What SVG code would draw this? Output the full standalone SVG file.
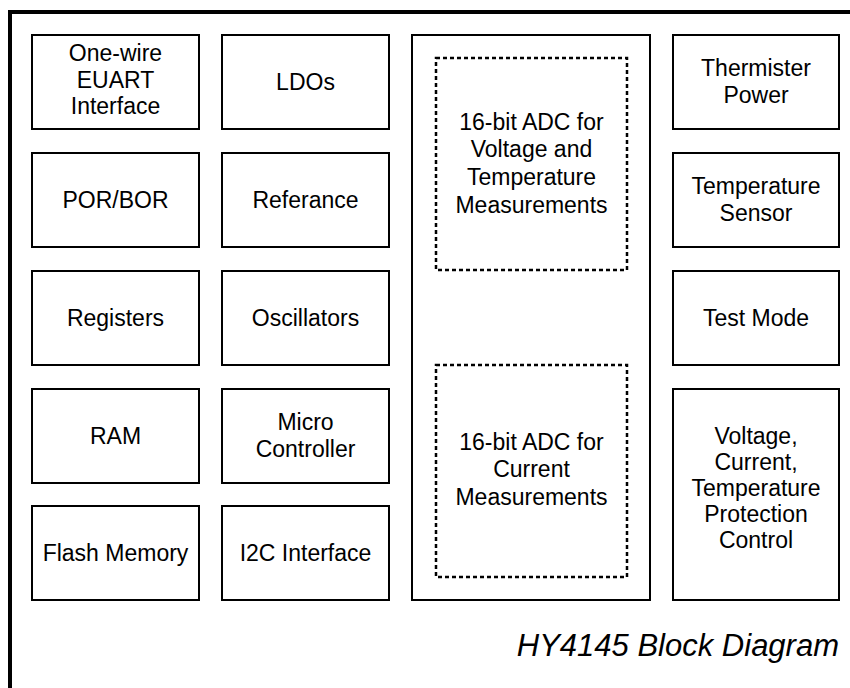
<svg xmlns="http://www.w3.org/2000/svg" width="850" height="688" viewBox="0 0 850 688">
<style>
.box{fill:#fff;stroke:#000;stroke-width:2}
.dash{fill:none;stroke:#000;stroke-width:2.5;stroke-dasharray:4 3}
.outer{fill:#fff;stroke:#000;stroke-width:4}
text{font-family:"Liberation Sans",Arial,sans-serif;font-size:23px;fill:#000;text-anchor:middle}
.title{font-size:31px;font-style:italic;text-anchor:end}
</style>
<rect class="outer" x="10" y="12" width="900" height="800"/>
<g id="connectors"></g>
<g id="onewire"><rect class="box" x="32" y="35" width="167" height="94"/><text x="115.5" y="61">One-wire</text><text x="115.5" y="88">EUART</text><text x="115.5" y="114">Interface</text></g>
<g id="ldos"><rect class="box" x="222" y="35" width="167" height="94"/><text x="305.5" y="90">LDOs</text></g>
<g id="thermister"><rect class="box" x="673" y="35" width="166" height="94"/><text x="756" y="75.5">Thermister</text><text x="756" y="102.5">Power</text></g>
<g id="porbor"><rect class="box" x="32" y="153" width="167" height="94"/><text x="115.5" y="208">POR/BOR</text></g>
<g id="referance"><rect class="box" x="222" y="153" width="167" height="94"/><text x="305.5" y="208">Referance</text></g>
<g id="tempsensor"><rect class="box" x="673" y="153" width="166" height="94"/><text x="756" y="193.5">Temperature</text><text x="756" y="220.5">Sensor</text></g>
<g id="registers"><rect class="box" x="32" y="271" width="167" height="94"/><text x="115.5" y="326">Registers</text></g>
<g id="oscillators"><rect class="box" x="222" y="271" width="167" height="94"/><text x="305.5" y="326">Oscillators</text></g>
<g id="testmode"><rect class="box" x="673" y="271" width="166" height="94"/><text x="756" y="326">Test Mode</text></g>
<g id="ram"><rect class="box" x="32" y="389" width="167" height="94"/><text x="115.5" y="444">RAM</text></g>
<g id="micro"><rect class="box" x="222" y="389" width="167" height="94"/><text x="305.5" y="429.5">Micro</text><text x="305.5" y="456.5">Controller</text></g>
<g id="protection"><rect class="box" x="673" y="389" width="166" height="211"/><text x="756" y="444">Voltage,</text><text x="756" y="470">Current,</text><text x="756" y="496">Temperature</text><text x="756" y="522">Protection</text><text x="756" y="548">Control</text></g>
<g id="flash"><rect class="box" x="32" y="506" width="167" height="94"/><text x="115.5" y="561">Flash Memory</text></g>
<g id="i2c"><rect class="box" x="222" y="506" width="167" height="94"/><text x="305.5" y="561">I2C Interface</text></g>
<g id="adcblock"><rect class="box" x="412" y="35" width="238" height="565"/></g>
<g id="adcvoltage"><rect class="dash" x="436" y="58" width="191" height="212"/><text x="531.5" y="129.5">16-bit ADC for</text><text x="531.5" y="157">Voltage and</text><text x="531.5" y="185">Temperature</text><text x="531.5" y="213">Measurements</text></g>
<g id="adccurrent"><rect class="dash" x="436" y="365" width="191" height="212"/><text x="531.5" y="449.5">16-bit ADC for</text><text x="531.5" y="477">Current</text><text x="531.5" y="505">Measurements</text></g>
<text class="title" x="839" y="656">HY4145 Block Diagram</text>
</svg>
